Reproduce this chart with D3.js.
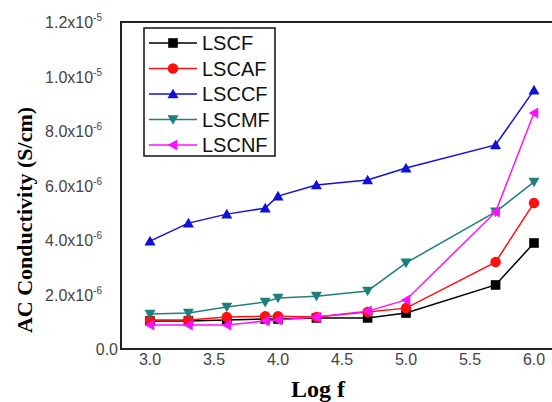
<!DOCTYPE html>
<html>
<head>
<meta charset="utf-8">
<script src="https://cdn.jsdelivr.net/npm/d3@7"></script>
<style>
  body { margin: 0; background: #fff; }
  svg { display: block; }
</style>
</head>
<body>
<div class="graph"></div>
<script>
var logF = [3.0, 3.3, 3.6, 3.9, 4.0, 4.3, 4.7, 5.0, 5.7, 6.0];
var lscf  = [1.03e-6, 1.03e-6, 1.06e-6, 1.1e-6, 1.1e-6, 1.14e-6, 1.14e-6, 1.32e-6, 2.35e-6, 3.89e-6];
var lscaf = [1.06e-6, 1.06e-6, 1.17e-6, 1.2e-6, 1.2e-6, 1.17e-6, 1.36e-6, 1.5e-6, 3.19e-6, 5.36e-6];
var lsccf = [3.96e-6, 4.62e-6, 4.95e-6, 5.17e-6, 5.61e-6, 6.02e-6, 6.2e-6, 6.64e-6, 7.49e-6, 9.5e-6];
var lscmf = [1.28e-6, 1.32e-6, 1.54e-6, 1.72e-6, 1.87e-6, 1.94e-6, 2.13e-6, 3.16e-6, 5.03e-6, 6.13e-6];
var lscnf = [0.88e-6, 0.88e-6, 0.88e-6, 1.03e-6, 1.06e-6, 1.17e-6, 1.39e-6, 1.8e-6, 5.03e-6, 8.66e-6];
var seriesNames = ["LSCF", "LSCAF", "LSCCF", "LSCMF", "LSCNF"];
var xTicks = [3.0, 3.5, 4.0, 4.5, 5.0, 5.5, 6.0];
var yTicks = [0, 2e-6, 4e-6, 6e-6, 8e-6, 1.0e-5, 1.2e-5];

var series = [
  {name: seriesNames[0], values: lscf,  color: "#000000", shape: "square"},
  {name: seriesNames[1], values: lscaf, color: "#ff1010", shape: "circle"},
  {name: seriesNames[2], values: lsccf, color: "#1010d8", shape: "up"},
  {name: seriesNames[3], values: lscmf, color: "#1f7f7f", shape: "down"},
  {name: seriesNames[4], values: lscnf, color: "#ff10ff", shape: "left"}
];

var width = 552, height = 402;
var svg = d3.select(".graph").append("svg")
  .attr("width", width)
  .attr("height", height);

var x = d3.scaleLinear().domain([3, 6]).range([150, 534]);
var y = d3.scaleLinear().domain([0, 1.2e-5]).range([349, 22]);
var left = 121;

// frame: left, top and bottom lines (right side runs off the picture)
svg.append("line").attr("x1", left).attr("x2", width).attr("y1", y(1.2e-5)).attr("y2", y(1.2e-5))
  .attr("stroke", "#222").attr("stroke-width", 2);
svg.append("line").attr("x1", left).attr("x2", width).attr("y1", y(0)).attr("y2", y(0))
  .attr("stroke", "#222").attr("stroke-width", 2);
svg.append("line").attr("x1", left).attr("x2", left).attr("y1", y(1.2e-5) - 1).attr("y2", y(0) + 1)
  .attr("stroke", "#222").attr("stroke-width", 2);

// x tick labels
svg.selectAll(".xt").data(xTicks).enter().append("text")
  .attr("x", d => x(d)).attr("y", 365)
  .attr("text-anchor", "middle")
  .attr("font-family", "Arial, 'Liberation Sans', sans-serif")
  .attr("font-size", 16).attr("fill", "#444")
  .text(d => d.toFixed(1));

// y tick labels
var yt = svg.selectAll(".yt").data(yTicks).enter().append("text")
  .attr("x", 102).attr("y", d => y(d) + 6)
  .attr("text-anchor", "end")
  .attr("font-family", "Arial, 'Liberation Sans', sans-serif")
  .attr("font-size", 16).attr("fill", "#444");
yt.filter(d => d === 0).attr("x", 118).text("0.0");
yt.filter(d => d > 0).each(function(d) {
  var e = Math.floor(Math.log10(d) + 1e-9);
  var m = d / Math.pow(10, e);
  var t = d3.select(this);
  t.append("tspan").text(m.toFixed(1) + "x10");
  t.append("tspan").attr("dy", -7).attr("font-size", 10).text(e);
});

// lines and markers
var line = d3.line().x((d, i) => x(logF[i])).y(d => y(d));

function symbolPath(shape, s) {
  if (shape === "square") return "M" + (-s) + "," + (-s) + "h" + 2 * s + "v" + 2 * s + "h" + (-2 * s) + "Z";
  if (shape === "circle") return d3.symbol(d3.symbolCircle, Math.PI * s * s * 1.2)();
  if (shape === "up") return "M0," + (-s * 1.1) + "L" + (s * 1.15) + "," + (s * 0.9) + "L" + (-s * 1.15) + "," + (s * 0.9) + "Z";
  if (shape === "down") return "M0," + (s * 1.1) + "L" + (s * 1.15) + "," + (-s * 0.9) + "L" + (-s * 1.15) + "," + (-s * 0.9) + "Z";
  return "M" + (-s * 1.1) + ",0L" + (s * 0.9) + "," + (-s * 1.15) + "L" + (s * 0.9) + "," + (s * 1.15) + "Z";
}

series.forEach(function(s) {
  svg.append("path")
    .attr("d", line(s.values))
    .attr("fill", "none")
    .attr("stroke", s.color)
    .attr("stroke-width", 1.5);
  svg.selectAll(null).data(s.values).enter().append("path")
    .attr("transform", (d, i) => "translate(" + x(logF[i]) + "," + y(d) + ")")
    .attr("d", symbolPath(s.shape, 4.8))
    .attr("fill", s.color);
});

// legend
var legend = svg.append("g");
legend.append("rect")
  .attr("x", 144).attr("y", 28).attr("width", 131).attr("height", 128)
  .attr("fill", "#fff").attr("stroke", "#111").attr("stroke-width", 1.5);
series.forEach(function(s, i) {
  var ly = 43 + i * 25.5;
  legend.append("line").attr("x1", 149).attr("x2", 197).attr("y1", ly).attr("y2", ly)
    .attr("stroke", s.color).attr("stroke-width", 1.5);
  legend.append("path").attr("transform", "translate(173," + ly + ")")
    .attr("d", symbolPath(s.shape, 4.8)).attr("fill", s.color);
  legend.append("text").attr("x", 202).attr("y", ly + 7)
    .attr("font-family", "Arial, 'Liberation Sans', sans-serif")
    .attr("font-size", 20).attr("fill", "#111")
    .text(s.name);
});

// axis titles
svg.append("text")
  .attr("x", 318).attr("y", 397)
  .attr("text-anchor", "middle")
  .attr("font-family", "'Liberation Serif', 'Times New Roman', serif")
  .attr("font-weight", "bold").attr("font-size", 24)
  .text("Log f");

svg.append("text")
  .attr("transform", "translate(32,220) rotate(-90)")
  .attr("text-anchor", "middle")
  .attr("font-family", "'Liberation Serif', 'Times New Roman', serif")
  .attr("font-weight", "bold").attr("font-size", 22)
  .text("AC Conductivity (S/cm)");
</script>
</body>
</html>
